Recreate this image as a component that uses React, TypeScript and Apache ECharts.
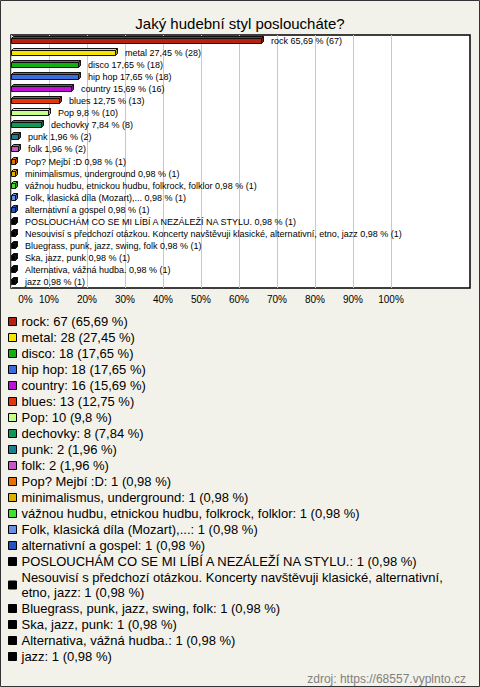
import React, { useEffect, useRef } from "react";
import * as echarts from "echarts";

const categories = [
  "rock",
  "metal",
  "disco",
  "hip hop",
  "country",
  "blues",
  "Pop",
  "dechovky",
  "punk",
  "folk",
  "Pop? Mejbí :D",
  "minimalismus, underground",
  "vážnou hudbu, etnickou hudbu, folkrock, folklor",
  "Folk, klasická díla (Mozart),...",
  "alternativní a gospel",
  "POSLOUCHÁM CO SE MI LÍBÍ A NEZÁLEŽÍ NA STYLU.",
  "Nesouvisí s předchozí otázkou. Koncerty navštěvuji klasické, alternativní, etno, jazz",
  "Bluegrass, punk, jazz, swing, folk",
  "Ska, jazz, punk",
  "Alternativa, vážná hudba.",
  "jazz",
];

const counts = [67, 28, 18, 18, 16, 13, 10, 8, 2, 2, 1, 1, 1, 1, 1, 1, 1, 1, 1, 1, 1];

const percents = [
  65.69, 27.45, 17.65, 17.65, 15.69, 12.75, 9.8, 7.84, 1.96, 1.96, 0.98, 0.98, 0.98, 0.98,
  0.98, 0.98, 0.98, 0.98, 0.98, 0.98, 0.98,
];

const colors = [
  "#b8200f",
  "#f5e400",
  "#10b010",
  "#3c6be0",
  "#c010d8",
  "#e0380c",
  "#c8ff88",
  "#109858",
  "#1c7f8f",
  "#c858c8",
  "#e87000",
  "#e0b000",
  "#40e030",
  "#6890e0",
  "#2850c0",
  "#000000",
  "#000000",
  "#000000",
  "#000000",
  "#000000",
  "#000000",
];

const xTicks = [0, 10, 20, 30, 40, 50, 60, 70, 80, 90, 100];

const FONT = "'Liberation Sans', Arial, sans-serif";

const fmtPct = (p: number) => String(p).replace(".", ",");

function darken(hex: string, f: number) {
  const n = parseInt(hex.slice(1), 16);
  const r = Math.round(((n >> 16) & 255) * f);
  const g = Math.round(((n >> 8) & 255) * f);
  const b = Math.round((n & 255) * f);
  return `rgb(${r},${g},${b})`;
}

function wrapText(text: string, font: string, limit: number) {
  const ctx = document.createElement("canvas").getContext("2d");
  if (!ctx) return text;
  ctx.font = font;
  const words = text.split(" ");
  const lines: string[] = [];
  let cur = "";
  for (const w of words) {
    const t = cur ? cur + " " + w : w;
    if (cur && ctx.measureText(t).width > limit) {
      lines.push(cur);
      cur = w;
    } else {
      cur = t;
    }
  }
  if (cur) lines.push(cur);
  return lines.join("\n");
}

export default function App() {
  const ref = useRef<HTMLDivElement>(null);

  useEffect(() => {
    if (!ref.current) return;
    const chart = echarts.init(ref.current, null, { renderer: "svg" });

    const series = categories.map((name, i) => {
      const color = colors[i];
      const label = `${name} ${fmtPct(percents[i])} % (${counts[i]})`;
      return {
        type: "custom",
        name,
        clip: false,
        itemStyle: { color },
        data: [[percents[i], i]],
        renderItem: (params: any, api: any) => {
          const v = api.value(0);
          const idx = api.value(1);
          const p0 = api.coord([0, idx]);
          const p1 = api.coord([v, idx]);
          const c = Math.round(p0[1]);
          const x0 = Math.round(p0[0]) + 0.5;
          const x1 = Math.round(p1[0]) + 0.5;
          const d = 2;
          const top = c - 2.5;
          const bot = c + 2.5;
          return {
            type: "group",
            children: [
              {
                type: "polygon",
                shape: {
                  points: [
                    [x0, top],
                    [x0 + d, top - d],
                    [x1 + d, top - d],
                    [x1, top],
                  ],
                },
                style: { fill: color, stroke: "#111", lineWidth: 1 },
              },
              {
                type: "polygon",
                shape: {
                  points: [
                    [x1, top],
                    [x1 + d, top - d],
                    [x1 + d, bot - d],
                    [x1, bot],
                  ],
                },
                style: { fill: darken(color, 0.7), stroke: "#111", lineWidth: 1 },
              },
              {
                type: "rect",
                shape: { x: x0, y: top, width: x1 - x0, height: bot - top },
                style: { fill: color, stroke: "#111", lineWidth: 1 },
              },
              {
                type: "text",
                x: Math.round(p1[0]) + 10,
                y: c,
                style: {
                  text: label,
                  fill: "#000",
                  fontSize: 9,
                  fontFamily: FONT,
                  verticalAlign: "middle",
                  align: "left",
                },
              },
            ],
          };
        },
      };
    });

    const option: any = {
      animation: false,
      backgroundColor: "#f3f2ea",
      title: [
        {
          text: "Jaký hudební styl posloucháte?",
          left: "center",
          top: 11,
          textStyle: { fontSize: 15, fontWeight: "normal", color: "#000", fontFamily: FONT },
        },
        {
          text: "zdroj: https://68557.vyplnto.cz",
          right: 9,
          top: 668,
          textStyle: { fontSize: 12, fontWeight: "normal", color: "#808080", fontFamily: FONT },
        },
      ],
      graphic: [
        {
          type: "rect",
          z: -10,
          shape: { x: 0.5, y: 0.5, width: 479, height: 686 },
          style: { fill: "none", stroke: "#333", lineWidth: 1 },
          silent: true,
        },
        {
          type: "rect",
          z: -10,
          shape: { x: 11, y: 35, width: 459, height: 253 },
          style: { fill: "#fff", stroke: "#000", lineWidth: 1.5 },
          silent: true,
        },
      ],
      grid: { left: 11, top: 35, width: 380, height: 253, containLabel: false },
      xAxis: {
        type: "value",
        min: xTicks[0],
        max: xTicks[xTicks.length - 1],
        interval: 10,
        axisLine: { show: false },
        axisTick: { show: false },
        splitLine: { show: true, lineStyle: { color: "#c8c8c8", width: 1 } },
        axisLabel: {
          margin: 6,
          color: "#000",
          fontSize: 10,
          fontFamily: FONT,
          formatter: (v: number) => (v === 0 ? "{z|0%}" : `${v}%`),
          rich: {
            z: { padding: [0, 0, 0, 29], fontSize: 10, fontFamily: FONT, color: "#000" },
          },
        },
      },
      yAxis: {
        type: "category",
        data: categories,
        inverse: true,
        show: false,
      },
      legend: {
        orient: "vertical",
        left: 8,
        top: 314,
        padding: 0,
        icon: "rect",
        itemWidth: 8,
        itemHeight: 8,
        itemGap: 1,
        selectedMode: false,
        itemStyle: { borderColor: "#000", borderWidth: 1 },
        data: categories,
        formatter: (name: string) => {
          const i = categories.indexOf(name);
          return wrapText(
            `${name}: ${counts[i]} (${fmtPct(percents[i])} %)`,
            `13px ${FONT}`,
            450
          );
        },
        textStyle: {
          color: "#000",
          fontSize: 13,
          fontFamily: FONT,
          lineHeight: 15,
        },
      },
      series,
    };

    chart.setOption(option);
    return () => chart.dispose();
  }, []);

  return (
    <div
      ref={ref}
      style={{ position: "fixed", left: 0, top: 0, width: 480, height: 687 }}
    />
  );
}
